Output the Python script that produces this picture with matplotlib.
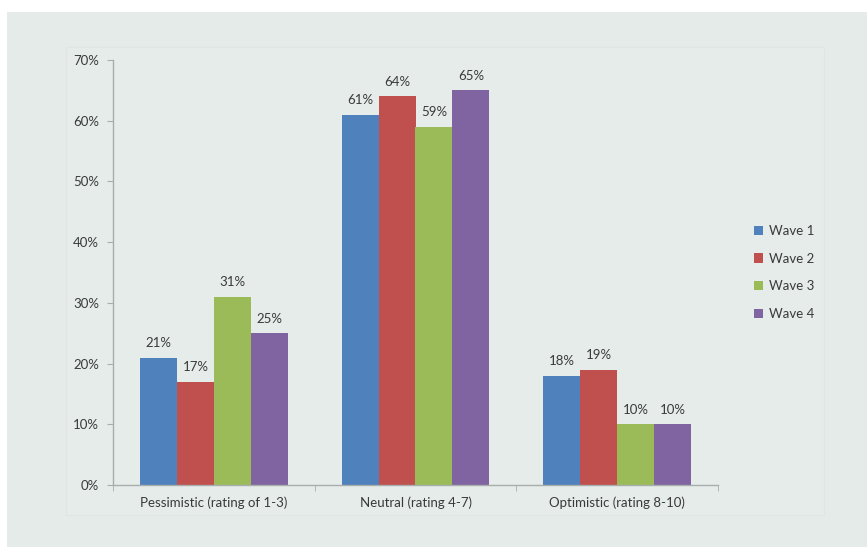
import matplotlib.pyplot as plt
import numpy as np
from matplotlib.patches import Rectangle

plt.rcParams['font.family'] = ['Lato', 'DejaVu Sans']

categories = ["Pessimistic (rating of 1-3)", "Neutral (rating 4-7)", "Optimistic (rating 8-10)"]
waves = ["Wave 1", "Wave 2", "Wave 3", "Wave 4"]
values = {
    "Wave 1": [21, 61, 18],
    "Wave 2": [17, 64, 19],
    "Wave 3": [31, 59, 10],
    "Wave 4": [25, 65, 10],
}
colors = ["#4F81BD", "#C0504D", "#9BBB59", "#8064A2"]
yticks = [0, 10, 20, 30, 40, 50, 60, 70]

bg = "#e4ebe8"
fig = plt.figure(figsize=(8.67, 5.47), dpi=100)
fig.patch.set_facecolor("white")
fig.patches.append(Rectangle((7 / 867, 0), 1, 1 - 12 / 547, transform=fig.transFigure,
                             facecolor=bg, edgecolor="none", zorder=-2))
# faint chart-area frame
fig.patches.append(Rectangle((66 / 867, 1 - 515 / 547), 758 / 867, 468 / 547,
                             transform=fig.transFigure, facecolor="#e5ece9",
                             edgecolor="#dfe6e3", linewidth=0.8, zorder=-1))

ax = fig.add_axes([113 / 867, 1 - 485 / 547, 605 / 867, 425 / 547])
ax.set_facecolor("none")

x = np.arange(len(categories))
w = 0.183
for i, wave in enumerate(waves):
    pos = x + (i - 1.5) * w
    bars = ax.bar(pos, values[wave], width=w, color=colors[i], label=wave, zorder=2)
    for b, v in zip(bars, values[wave]):
        ax.text(b.get_x() + b.get_width() / 2, v + 1.4, f"{v}%", ha="center", va="bottom",
                fontsize=9.5, color="#3a3a3a")

ax.set_xlim(-0.5, 2.5)
ax.set_ylim(0, 70)
ax.set_yticks(yticks)
ax.set_yticklabels([f"{t}%" for t in yticks], fontsize=9.5, color="#3a3a3a")
ax.set_xticks(x)
ax.set_xticklabels(categories, fontsize=9.5, color="#3a3a3a")
ax.set_xticks([-0.5, 0.5, 1.5, 2.5], minor=True)
ax.tick_params(axis="x", which="major", length=0, pad=8)
ax.tick_params(axis="x", which="minor", length=4, color="#a8aeac")
ax.tick_params(axis="y", length=4, color="#a8aeac", pad=6)

for side in ["top", "right"]:
    ax.spines[side].set_visible(False)
for side in ["left", "bottom"]:
    ax.spines[side].set_color("#a8aeac")
    ax.spines[side].set_linewidth(1)

leg = ax.legend(loc="center left", bbox_to_anchor=(1.04, 0.5), frameon=False,
                fontsize=9.5, handlelength=0.7, handleheight=0.7, handletextpad=0.4,
                labelspacing=1.2)
for t in leg.get_texts():
    t.set_color("#3a3a3a")

fig.savefig("out.png", dpi=100, facecolor=fig.get_facecolor())
